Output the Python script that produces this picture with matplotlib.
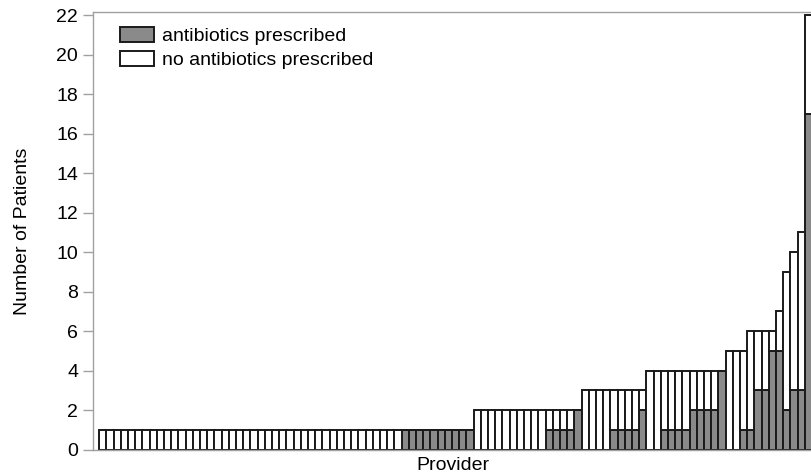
import matplotlib
matplotlib.use("Agg")
import matplotlib.pyplot as plt
import numpy as np

plt.rcParams['font.family'] = ['Liberation Sans', 'DejaVu Sans']

# (total patients, patients with antibiotics) per provider, grouped as runs
groups_total = [1, 1, 2, 2, 2, 3, 3, 3, 4, 4, 4, 4, 5, 5, 6, 6, 6, 7, 9, 10, 11, 22]
groups_abx   = [0, 1, 0, 1, 2, 0, 1, 2, 0, 1, 2, 4, 0, 1, 1, 3, 5, 5, 2, 3, 3, 17]
groups_count = [42, 10, 10, 4, 1, 4, 4, 1, 2, 4, 4, 1, 2, 1, 1, 2, 1, 1, 1, 1, 1, 1]

total = np.repeat(groups_total, groups_count)
abx = np.repeat(groups_abx, groups_count)
no_abx = total - abx
x = np.arange(len(total))

yticks = list(range(0, 23, 2))

fig = plt.figure(figsize=(8.12, 4.75), dpi=100)
ax = fig.add_axes([93.3/812, 1 - 449.5/475, (812 - 93.3)/812, (449.5 - 12.3)/475])

edge = '#1a1a1a'
dark = '#8a8a8a'
ax.bar(x, abx, width=1.0, align='edge', color=dark, edgecolor=edge, linewidth=1.4,
       label='antibiotics prescribed')
ax.bar(x, no_abx, width=1.0, align='edge', bottom=abx, color='white', edgecolor=edge,
       linewidth=1.4, label='no antibiotics prescribed')

ax.set_xlim(-0.83, len(total))
ax.set_ylim(0, 22.15)
ax.set_yticks(yticks)
ax.set_yticklabels([str(v) for v in yticks], fontsize=14)
ax.set_xticks([])

gray = '#a0a0a0'
for s in ['left', 'top', 'bottom', 'right']:
    ax.spines[s].set_color(gray)
    ax.spines[s].set_linewidth(1.0)
ax.tick_params(axis='y', length=7, width=1.0, color=gray, pad=4)

ax.set_ylabel('Number of Patients', fontsize=14)
ax.yaxis.set_label_coords(-0.0867, 0.5)
ax.set_xlabel('Provider', fontsize=14)
ax.xaxis.set_label_coords(0.5, -0.018)

leg = ax.legend(loc='upper left', bbox_to_anchor=(0.027, 0.985), frameon=False,
                fontsize=14, handlelength=1.7, handleheight=0.8,
                labelspacing=0.3, handletextpad=0.45, borderaxespad=0.0)

fig.savefig('out.png', dpi=100)
